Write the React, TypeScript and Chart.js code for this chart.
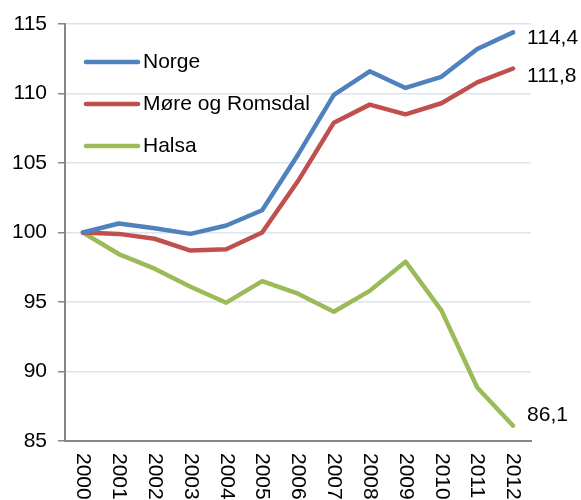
import React, { useEffect, useRef } from "react";
import { Chart, registerables } from "chart.js";

Chart.register(...registerables);

const years = ["2000","2001","2002","2003","2004","2005","2006","2007","2008","2009","2010","2011","2012"];
const norge = [100, 100.65, 100.3, 99.9, 100.5, 101.6, 105.6, 109.9, 111.6, 110.4, 111.2, 113.2, 114.4];
const more = [100, 99.9, 99.55, 98.7, 98.8, 100.0, 103.7, 107.9, 109.2, 108.5, 109.3, 110.8, 111.8];
const halsa = [100, 98.45, 97.4, 96.1, 94.95, 96.5, 95.6, 94.3, 95.8, 97.9, 94.4, 88.85, 86.1];
const seriesNames = ["Norge", "Møre og Romsdal", "Halsa"];
const endLabels = ["114,4", "111,8", "86,1"];
const yTicks = [85, 90, 95, 100, 105, 110, 115];

const colors = ["#4F81BD", "#C0504D", "#9BBB59"];
const FONT = "Liberation Sans, Arial, sans-serif";

const customPlugin = {
  id: "custom",
  afterDraw(chart: any) {
    const ctx = chart.ctx;
    const xs = chart.scales.x;
    const ys = chart.scales.y;
    const area = chart.chartArea;
    ctx.save();
    // x labels rotated clockwise
    ctx.fillStyle = "#000";
    ctx.font = `21px ${FONT}`;
    ctx.textAlign = "left";
    ctx.textBaseline = "middle";
    years.forEach((y, i) => {
      const x = xs.getPixelForValue(i);
      ctx.save();
      ctx.translate(x, area.bottom + 12);
      ctx.rotate(Math.PI / 2);
      ctx.fillText(y, 0, 0);
      ctx.restore();
    });
    // legend
    const legendY = [62, 104, 146];
    seriesNames.forEach((n, i) => {
      ctx.strokeStyle = colors[i];
      ctx.lineWidth = 4.5;
      ctx.lineCap = "round";
      ctx.beginPath();
      ctx.moveTo(86, legendY[i]);
      ctx.lineTo(138, legendY[i]);
      ctx.stroke();
      ctx.fillStyle = "#000";
      ctx.textAlign = "left";
      ctx.textBaseline = "middle";
      ctx.fillText(n, 143, legendY[i]);
    });
    // end labels
    const last = years.length - 1;
    const xe = xs.getPixelForValue(last) + 14;
    const offs = [6, 8, -11];
    [norge, more, halsa].forEach((arr, i) => {
      const yv = ys.getPixelForValue(arr[last]) + offs[i];
      ctx.fillStyle = "#000";
      ctx.fillText(endLabels[i], xe, yv);
    });
    ctx.restore();
  },
};

export default function App() {
  const ref = useRef<HTMLCanvasElement>(null);
  useEffect(() => {
    if (!ref.current) return;
    const mk = (data: number[], i: number) => ({
      label: seriesNames[i],
      data,
      borderColor: colors[i],
      backgroundColor: colors[i],
      borderWidth: 4.5,
      pointRadius: 0,
      tension: 0,
      borderCapStyle: "round" as const,
      borderJoinStyle: "round" as const,
    });
    const chart = new Chart(ref.current, {
      type: "line",
      data: {
        labels: years,
        datasets: [mk(norge, 0), mk(more, 1), mk(halsa, 2)],
      },
      options: {
        animation: false,
        responsive: false,
        layout: { padding: { top: 24, right: 50, left: 0, bottom: 0 } },
        plugins: { legend: { display: false }, tooltip: { enabled: false } },
        scales: {
          x: {
            offset: true,
            grid: { display: false, drawTicks: false },
            border: { color: "#868686", width: 2 },
            ticks: { display: false },
            afterFit(s: any) { s.height = 59; },
          },
          y: {
            min: 85,
            max: 115,
            afterBuildTicks(s: any) { s.ticks = yTicks.map((v) => ({ value: v })); },
            grid: { color: "#DCE4EE", lineWidth: 1.5, tickLength: 7, tickColor: "#868686" },
            border: { color: "#868686", width: 2 },
            ticks: {
              color: "#000",
              font: { family: FONT, size: 21 },
              padding: 11,
              callback: (v: any) => String(v),
            },
            afterFit(s: any) { s.width = 65; },
          },
        },
      },
      plugins: [customPlugin],
    });
    return () => chart.destroy();
  }, []);
  return (
    <div style={{ position: "fixed", left: 0, top: 0, width: 581, height: 500, background: "#fff" }}>
      <canvas ref={ref} width={581} height={500} />
    </div>
  );
}
